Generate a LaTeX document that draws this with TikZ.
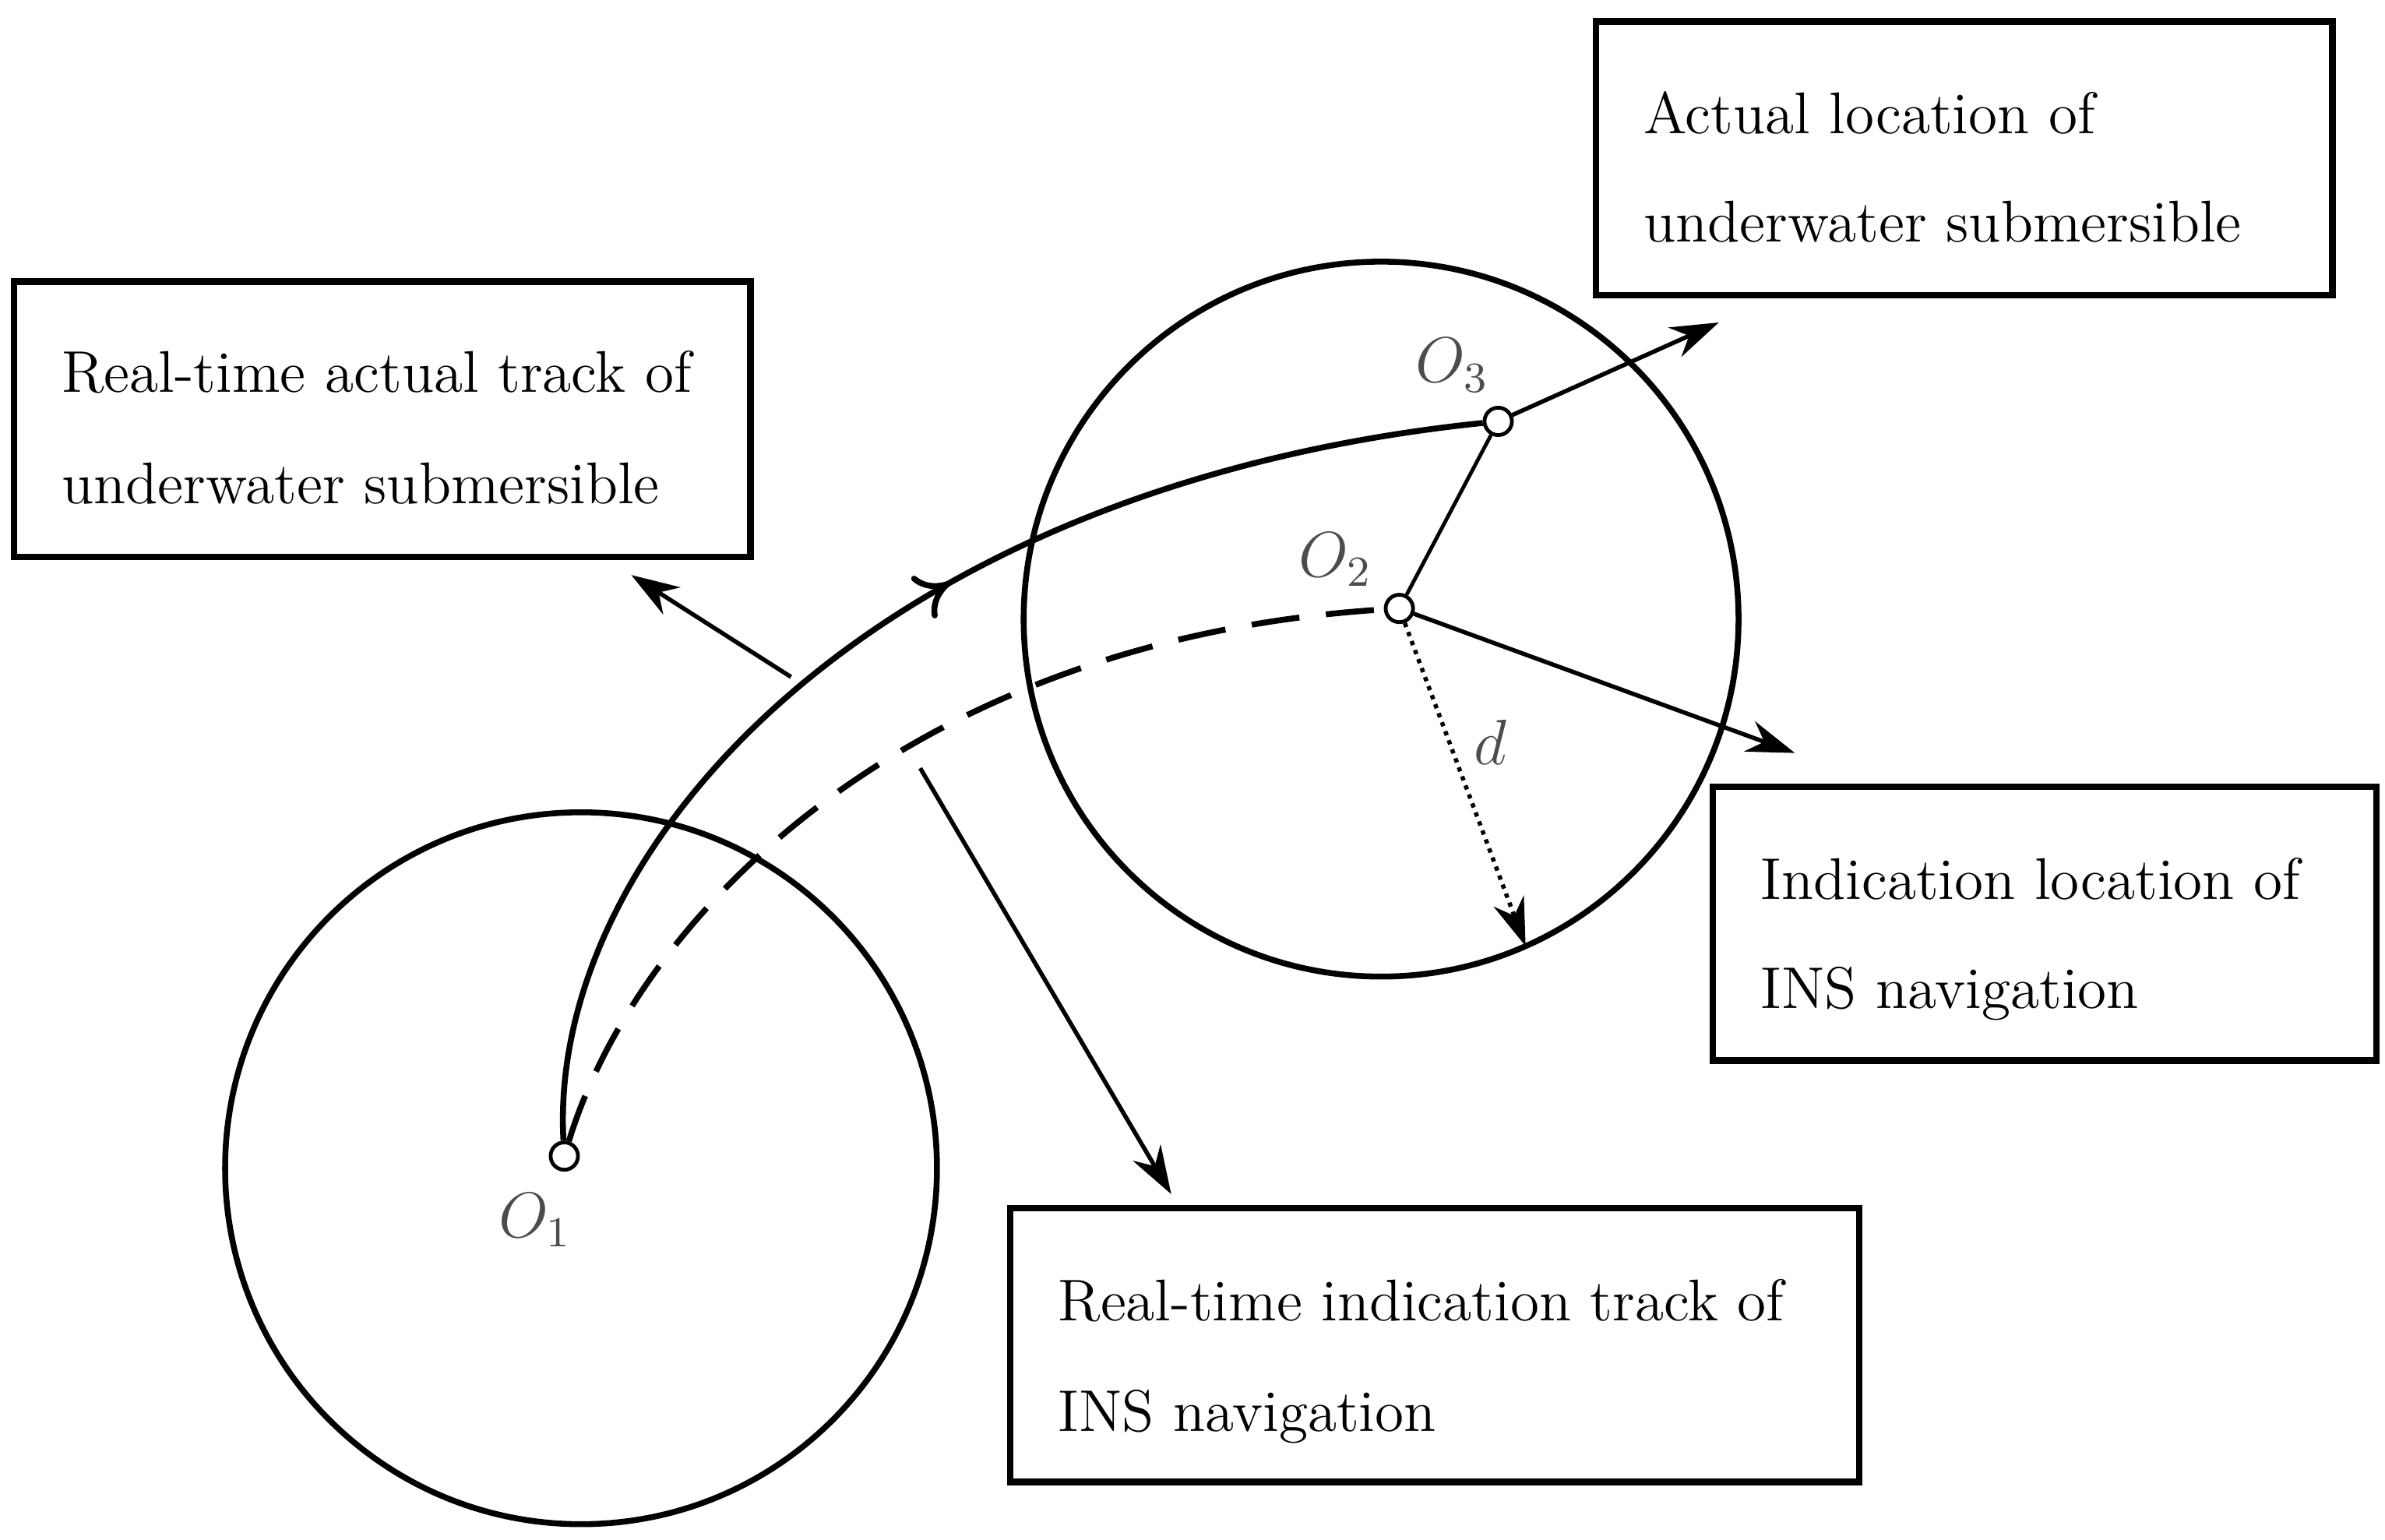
\documentclass[tikz,border=0pt]{standalone}
\usetikzlibrary{arrows.meta,decorations.markings}
\begin{document}
\begin{tikzpicture}[x=0.01cm,y=-0.01cm,
  box/.style={draw,line width=1.2pt,anchor=north west,inner sep=0pt},
  txt/.style={anchor=base west,inner sep=0pt,font=\fontsize{11}{13}\selectfont},
  lab/.style={font=\fontsize{12}{14}\selectfont\itshape,text=black!70},
  big/.style={line width=1.1pt},
  arr/.style={line width=0.8pt,-{Stealth[length=9pt,width=6pt]}},
  pt/.style={circle,draw,line width=0.7pt,minimum size=0.18cm,inner sep=0pt}]
\useasboundingbox (0,0) rectangle (1568,1012);
\draw[big] (382,768) circle[radius=234];
\draw[big] (908,407) circle[radius=235];
\node[pt] (o1) at (371,760) {};
\node[pt] (o2) at (920,400) {};
\node[pt] (o3) at (985,277) {};
\node[lab] at (352,802) {$O_1$};
\node[lab] at (878,368) {$O_2$};
\node[lab] at (955,240) {$O_3$};
\draw[big,postaction={decorate},decoration={markings,mark=at position 0.56 with {\arrow{>[length=6pt,width=9pt]}}}]
  (o1) .. controls (360,560) and (570,320) .. (o3);
\draw[big,dash pattern=on 9pt off 5pt] (o1) .. controls (420,600) and (600,420) .. (o2);
\draw[line width=0.7pt] (o2) -- (o3);
\coordinate (a3) at (1130,212);
\coordinate (a2) at (1180,495);
\coordinate (ad) at (1003,622);
\coordinate (t1) at (520,445);
\coordinate (t1e) at (415,378);
\coordinate (t2) at (605,505);
\coordinate (t2e) at (770,785);
\draw[arr] (o3) -- (a3);
\draw[arr] (o2) -- (a2);
\draw[arr,densely dotted] (o2) -- (ad);
\node[lab] at (980,488) {$d$};
\draw[arr] (t1) -- (t1e);
\draw[arr] (t2) -- (t2e);
\node[box,minimum width=4.84cm,minimum height=1.81cm] (b1) at (7,183) {};
\node[txt] at (40,258) {Real-time actual track of};
\node[txt] at (40,331) {underwater submersible};
\node[box,minimum width=4.84cm,minimum height=1.80cm] (b2) at (1047,12) {};
\node[txt] at (1080,88) {Actual location of};
\node[txt] at (1080,159) {underwater submersible};
\node[box,minimum width=4.36cm,minimum height=1.80cm] (b3) at (1124,515) {};
\node[txt] at (1157,591) {Indication location of};
\node[txt] at (1157,663) {INS navigation};
\node[box,minimum width=5.58cm,minimum height=1.80cm] (b4) at (662,792) {};
\node[txt] at (695,868) {Real-time indication track of};
\node[txt] at (695,941) {INS navigation};
\end{tikzpicture}
\end{document}
